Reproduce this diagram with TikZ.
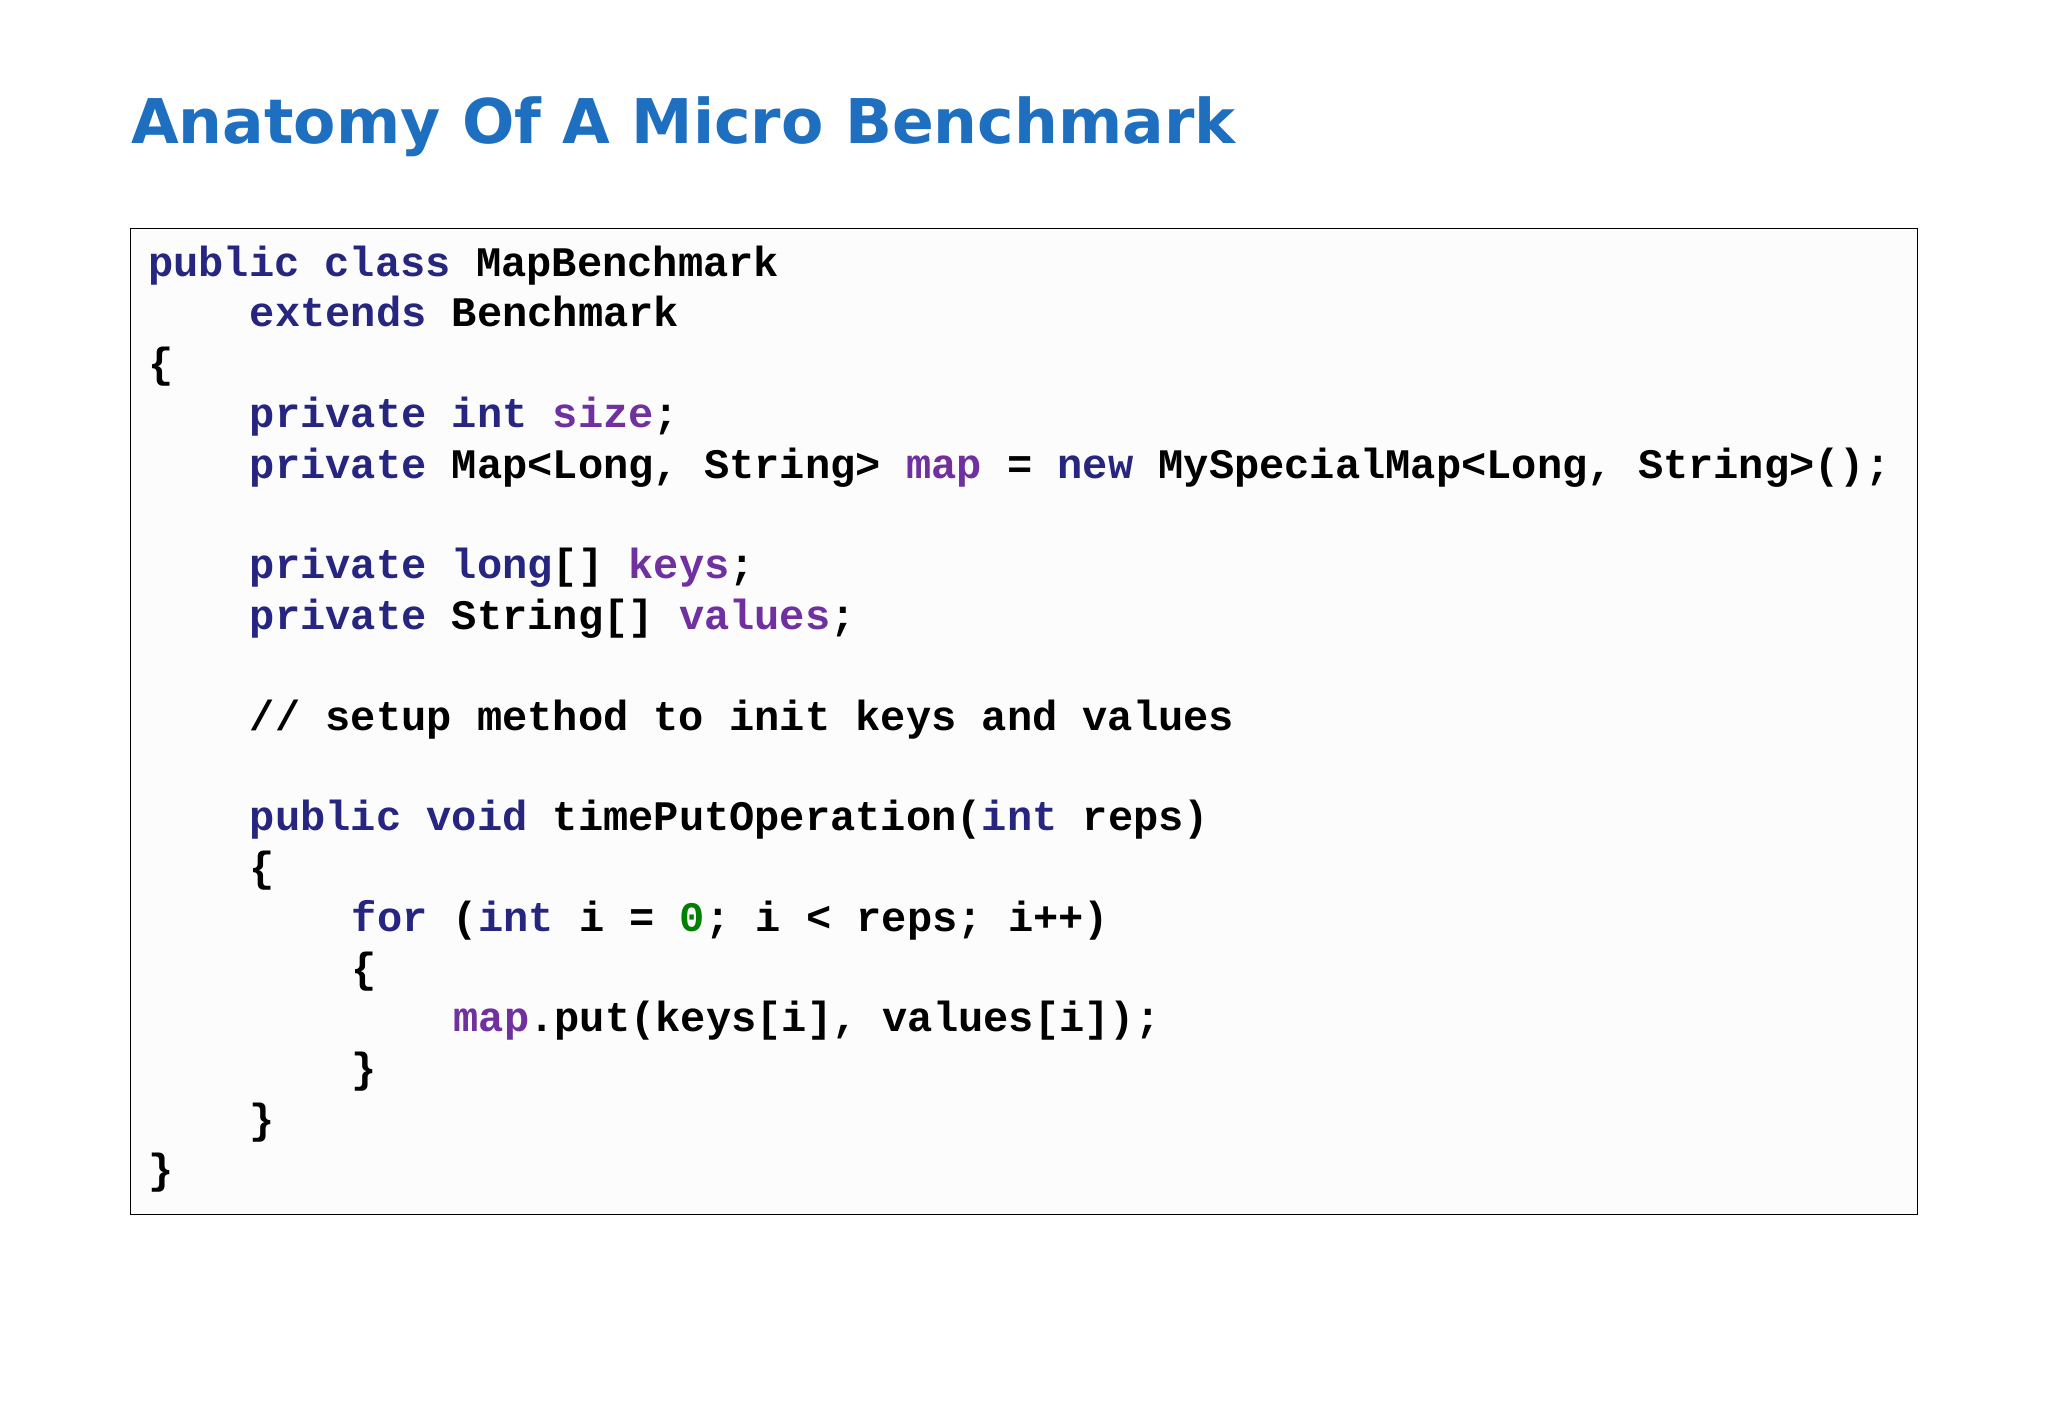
\documentclass[tikz,border=0pt]{standalone}
\usepackage{fontspec}
\newfontfamily\codefont{Liberation Mono}[BoldFont={Liberation Mono Bold}]
\newfontfamily\titlefont{DejaVu Sans}
\definecolor{kw}{HTML}{262680}
\definecolor{fld}{HTML}{7030A0}
\definecolor{num}{HTML}{008000}
\definecolor{ttl}{HTML}{1F6FC0}
\newcommand{\K}[1]{\textcolor{kw}{#1}}
\newcommand{\F}[1]{\textcolor{fld}{#1}}
\begin{document}
\begin{tikzpicture}[x=0.5pt,y=-0.5pt,
  code/.style={anchor=base west,inner sep=0pt,font=\codefont\bfseries\fontsize{16.1pt}{19pt}\selectfont,text=black}]
\useasboundingbox[fill=white] (0,0) rectangle (1568,1086);
\node[anchor=base west,inner sep=0pt,font=\titlefont\bfseries\fontsize{23.6pt}{28pt}\selectfont,text=ttl] (title) at (100,110) {Anatomy Of A Micro Benchmark};
\draw[line width=0.6pt,fill=white!99!black] (100,175) rectangle (1468,930);
\node[code] (l1) at (113,212) {\K{public class} MapBenchmark};
\node[code] (l2) at (191,250) {\K{extends} Benchmark};
\node[code] (l3) at (113,289) {\{};
\node[code] (l4) at (191,327) {\K{private int} \F{size};};
\node[code] (l5) at (191,366) {\K{private} Map<Long, String> \F{map} = \K{new} MySpecialMap<Long, String>();};
\node[code] (l7) at (191,443) {\K{private long}[] \F{keys};};
\node[code] (l8) at (191,482) {\K{private} String[] \F{values};};
\node[code] (l10) at (191,559) {// setup method to init keys and values};
\node[code] (l12) at (191,636) {\K{public void} timePutOperation(\K{int} reps)};
\node[code] (l13) at (191,675) {\{};
\node[code] (l14) at (269,713) {\K{for} (\K{int} i = \textcolor{num}{0}; i < reps; i++)};
\node[code] (l15) at (269,752) {\{};
\node[code] (l16) at (347,790) {\F{map}.put(keys[i], values[i]);};
\node[code] (l17) at (269,829) {\}};
\node[code] (l18) at (191,868) {\}};
\node[code] (l19) at (113,906) {\}};
\end{tikzpicture}
\end{document}
